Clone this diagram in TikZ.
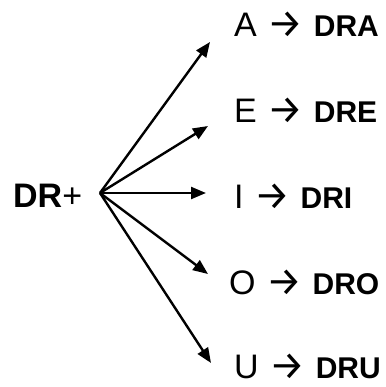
\documentclass[tikz,border=0pt]{standalone}
\usepackage{fontspec}
\setmainfont{Liberation Sans}
\newfontfamily\arrowfont{Fira Sans}
\usetikzlibrary{arrows.meta}

\begin{document}
\begin{tikzpicture}[x=1pt,y=-1pt]
            \tikzstyle{every node}+=[inner sep=0pt]
            \tikzstyle{vowel}=[anchor=base west, font=\fontsize{34}{40}\selectfont]
            \tikzstyle{spoke}=[line width=2.4pt, -{Triangle[length=15pt,width=12pt]}]
            \newcommand{\syl}[1]{{\fontsize{30}{34}\selectfont\bfseries #1}}
            \newcommand{\gives}{\hspace{11pt}\raisebox{-1pt}[\height][0pt]{\fontsize{40}{40}\arrowfont\selectfont\char"2192}\hspace{10pt}}
            \useasboundingbox (0,0) rectangle (385,387);
            \node [anchor=base west, font=\fontsize{34}{40}\selectfont] (dr) at (13,207) {\textbf{DR}+};
            \coordinate (hub) at (100,193);
            \node [vowel] (a) at (234,37) {A\gives\syl{DRA}};
            \node [vowel] (e) at (234,123) {E\gives\syl{DRE}};
            \node [vowel] (i) at (234,208) {I\gives\syl{DRI}};
            \node [vowel] (o) at (229,294) {O\gives\syl{DRO}};
            \node [vowel] (u) at (234,378) {U\gives\syl{DRU}};
            \coordinate (tipA) at (210,42);
            \coordinate (tipE) at (208,126);
            \coordinate (tipI) at (206,193);
            \coordinate (tipO) at (208,274);
            \coordinate (tipU) at (211,363);
            \draw [spoke] (hub) -- (tipA);
            \draw [spoke] (hub) -- (tipE);
            \draw [spoke] (hub) -- (tipI);
            \draw [spoke] (hub) -- (tipO);
            \draw [spoke] (hub) -- (tipU);
\end{tikzpicture}
\end{document}
